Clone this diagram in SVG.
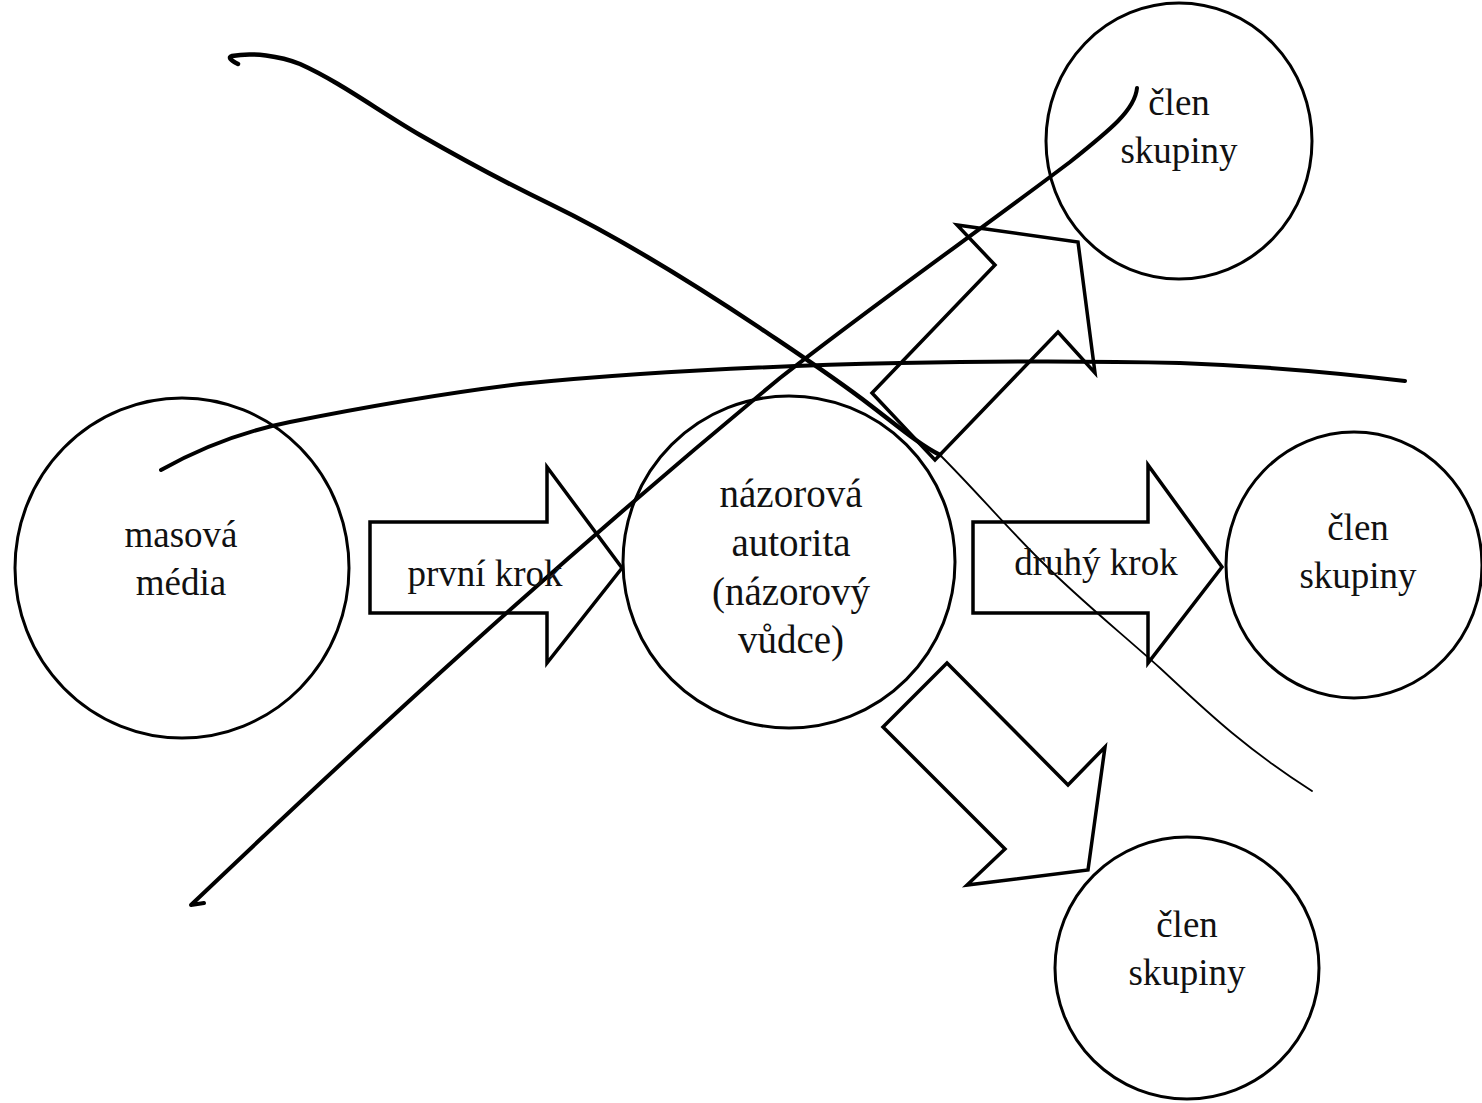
<svg xmlns="http://www.w3.org/2000/svg" width="1482" height="1103" viewBox="0 0 1482 1103">
<style>
.node{fill:none;stroke:#000;stroke-width:3}
.arr{fill:none;stroke:#000;stroke-width:3.5;stroke-linejoin:miter}
.lbl{font-family:"Liberation Serif","DejaVu Serif",serif;font-size:37px;fill:#111;text-anchor:middle}
.lbl2{font-family:"Liberation Serif","DejaVu Serif",serif;font-size:39px;fill:#111;text-anchor:middle}
.pen{fill:none;stroke:#000;stroke-linecap:round;stroke-linejoin:round}
</style>
<rect width="1482" height="1103" fill="#fff"/>
<g id="pen-strokes">
<path class="pen" stroke-width="4.5" d="M238,64 C230,60 228,57 232,56 C252,52 280,56 300,64 C340,82 377,110 420,135 C460,158 500,180 550,204 C620,238 700,288 760,328 C800,355 835,378 870,405 C900,428 920,445 940,455"/>
<path class="pen" stroke-width="1.8" d="M940,455 C975,490 1000,520 1040,560 C1080,600 1120,632 1160,668 C1200,705 1240,745 1312,791"/>
<path class="pen" stroke-width="4" d="M161,470 C200,448 240,432 290,422 C360,408 430,395 520,384 C640,372 760,366 900,363 C1000,361 1100,361 1180,363 C1260,366 1330,372 1405,381"/>
<path class="pen" stroke-width="4" d="M204,903 L191,905 C380,725 560,560 780,378 C880,300 980,230 1070,162 C1110,130 1135,110 1137,88"/>
</g>
<g id="arrows">
<polygon id="arrow-prvni" class="arr" points="370,522 547,522 547,467 622,568 547,663 547,613 370,613"/>
<polygon id="arrow-druhy" class="arr" points="973,522 1148,522 1148,465 1222,567 1148,663 1148,613 973,613"/>
<polygon id="arrow-up" class="arr" points="872,393 995,265 957,225 1078,242 1095,373 1058,332 935,460"/>
<polygon id="arrow-down" class="arr" points="947,663 1068,785 1105,747 1088,870 967,885 1005,849 883,727"/>
<text class="lbl" x="485" y="586">první krok</text>
<text class="lbl" x="1096" y="575">druhý krok</text>
</g>
<g id="node-media">
<ellipse class="node" cx="182" cy="568" rx="167" ry="170"/>
<text class="lbl" x="181" y="547">masová</text>
<text class="lbl" x="181" y="595">média</text>
</g>
<g id="node-autorita">
<ellipse class="node" cx="789" cy="562" rx="166" ry="166"/>
<text class="lbl2" x="791" y="507">názorová</text>
<text class="lbl2" x="791" y="556">autorita</text>
<text class="lbl2" x="791" y="605">(názorový</text>
<text class="lbl2" x="791" y="653">vůdce)</text>
</g>
<g id="node-clen-top">
<ellipse class="node" cx="1179" cy="141" rx="133" ry="138"/>
<text class="lbl" x="1179" y="115">člen</text>
<text class="lbl" x="1179" y="163">skupiny</text>
</g>
<g id="node-clen-mid">
<ellipse class="node" cx="1354" cy="565" rx="128" ry="133"/>
<text class="lbl" x="1358" y="540">člen</text>
<text class="lbl" x="1358" y="588">skupiny</text>
</g>
<g id="node-clen-bottom">
<ellipse class="node" cx="1187" cy="968" rx="132" ry="131"/>
<text class="lbl" x="1187" y="937">člen</text>
<text class="lbl" x="1187" y="985">skupiny</text>
</g>
</svg>
